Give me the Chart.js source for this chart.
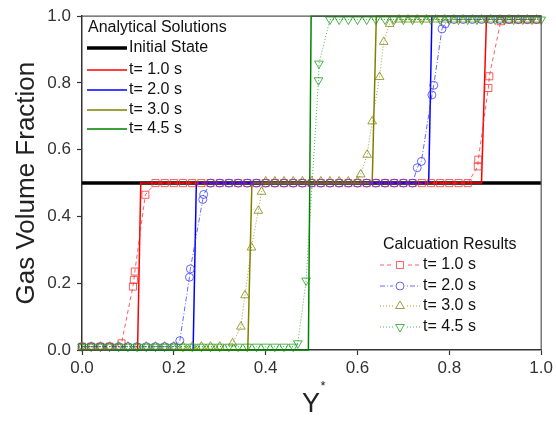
<!DOCTYPE html>
<html>
<head>
<meta charset="utf-8">
<script src="https://cdn.jsdelivr.net/npm/chart.js@4/dist/chart.umd.min.js"></script>
<style>
  html, body { margin: 0; padding: 0; background: #fff; }
  #wrap { width: 556px; height: 425px; }
</style>
</head>
<body>
<div id="wrap"><canvas id="gvf"></canvas></div>
<script>
// axis ticks
const xTicks = [0.0, 0.2, 0.4, 0.6, 0.8, 1.0];
const yTicks = [0.0, 0.2, 0.4, 0.6, 0.8, 1.0];

// analytical solutions (step fronts)
const initX = [0.0, 1.0];
const initY = [0.5, 0.5];
const anaX10 = [0.0, 0.121, 0.128, 0.870, 0.881, 1.0];
const anaY10 = [0.0, 0.0, 0.5, 0.5, 1.0, 1.0];
const anaX20 = [0.0, 0.242, 0.249, 0.755, 0.762, 1.0];
const anaY20 = [0.0, 0.0, 0.5, 0.5, 1.0, 1.0];
const anaX30 = [0.0, 0.361, 0.370, 0.632, 0.641, 1.0];
const anaY30 = [0.0, 0.0, 0.5, 0.5, 1.0, 1.0];
const anaX45 = [0.0, 0.493, 0.499, 1.0];
const anaY45 = [0.0, 0.0, 1.0, 1.0];

// calculation results
const calX10 = [0.00, 0.02, 0.04, 0.06, 0.086, 0.111, 0.113, 0.115, 0.138,
  0.16, 0.18, 0.20, 0.22, 0.24, 0.26, 0.28, 0.30, 0.32, 0.34, 0.36, 0.38, 0.40,
  0.42, 0.44, 0.46, 0.48, 0.50, 0.52, 0.54, 0.56, 0.58, 0.60, 0.62, 0.64, 0.66,
  0.68, 0.70, 0.72, 0.74, 0.76, 0.78, 0.80, 0.82, 0.84,
  0.862, 0.863, 0.885, 0.887, 0.912, 0.93, 0.95, 0.97, 0.99];
const calY10 = [0.01, 0.01, 0.01, 0.01, 0.02, 0.19, 0.21, 0.235, 0.465,
  0.5, 0.5, 0.5, 0.5, 0.5, 0.5, 0.5, 0.5, 0.5, 0.5, 0.5, 0.5, 0.5,
  0.5, 0.5, 0.5, 0.5, 0.5, 0.5, 0.5, 0.5, 0.5, 0.5, 0.5, 0.5, 0.5,
  0.5, 0.5, 0.5, 0.5, 0.5, 0.5, 0.5, 0.5, 0.5,
  0.55, 0.57, 0.785, 0.82, 0.985, 0.99, 0.99, 0.99, 0.99];

const calX20 = [0.00, 0.02, 0.04, 0.06, 0.08, 0.10, 0.12, 0.14, 0.16, 0.18, 0.20,
  0.213, 0.234, 0.236, 0.263, 0.265,
  0.28, 0.30, 0.32, 0.34, 0.36, 0.38, 0.40, 0.42, 0.44, 0.46, 0.48, 0.50,
  0.52, 0.54, 0.56, 0.58, 0.60, 0.62, 0.64, 0.66, 0.68, 0.70, 0.72,
  0.730, 0.739, 0.762, 0.766, 0.784, 0.791,
  0.81, 0.83, 0.85, 0.87, 0.89, 0.91, 0.93, 0.95, 0.97, 0.99];
const calY20 = [0.01, 0.01, 0.01, 0.01, 0.01, 0.01, 0.01, 0.01, 0.01, 0.01, 0.01,
  0.028, 0.218, 0.243, 0.451, 0.466,
  0.5, 0.5, 0.5, 0.5, 0.5, 0.5, 0.5, 0.5, 0.5, 0.5, 0.5, 0.5,
  0.5, 0.5, 0.5, 0.5, 0.5, 0.5, 0.5, 0.5, 0.5, 0.5, 0.5,
  0.546, 0.565, 0.764, 0.793, 0.962, 0.977,
  0.99, 0.99, 0.99, 0.99, 0.99, 0.99, 0.99, 0.99, 0.99, 0.99];

const calX30 = [0.00, 0.02, 0.04, 0.06, 0.08, 0.10, 0.12, 0.14, 0.16, 0.18, 0.20,
  0.22, 0.24, 0.26, 0.28, 0.30,
  0.328, 0.346, 0.355, 0.369, 0.384, 0.391,
  0.40, 0.42, 0.44, 0.46, 0.48, 0.50, 0.52, 0.54, 0.56, 0.58, 0.60,
  0.607, 0.621, 0.632, 0.648, 0.657, 0.670,
  0.69, 0.71, 0.73, 0.75, 0.77, 0.79, 0.81, 0.83, 0.85, 0.87, 0.89, 0.91,
  0.93, 0.95, 0.97, 0.99];
const calY30 = [0.01, 0.01, 0.01, 0.01, 0.01, 0.01, 0.01, 0.01, 0.01, 0.01, 0.01,
  0.01, 0.01, 0.01, 0.01, 0.01,
  0.02, 0.07, 0.164, 0.307, 0.417, 0.474,
  0.505, 0.505, 0.505, 0.505, 0.505, 0.505, 0.505, 0.505, 0.505, 0.505, 0.505,
  0.526, 0.585, 0.685, 0.818, 0.923, 0.977,
  0.99, 0.99, 0.99, 0.99, 0.99, 0.99, 0.99, 0.99, 0.99, 0.99, 0.99, 0.99,
  0.99, 0.99, 0.99, 0.99];

const calX45 = [0.00, 0.02, 0.04, 0.06, 0.08, 0.10, 0.12, 0.14, 0.16, 0.18, 0.20,
  0.22, 0.24, 0.26, 0.28, 0.30, 0.32, 0.34, 0.36, 0.38, 0.40, 0.42, 0.44, 0.46,
  0.47, 0.488, 0.515, 0.516,
  0.54, 0.56, 0.58, 0.60, 0.62, 0.64, 0.66, 0.68, 0.70, 0.72, 0.74, 0.76,
  0.78, 0.80, 0.82, 0.84, 0.86, 0.88, 0.90, 0.92, 0.94, 0.96, 0.98, 1.00];
const calY45 = [0.01, 0.01, 0.01, 0.01, 0.01, 0.01, 0.01, 0.01, 0.01, 0.01, 0.01,
  0.01, 0.01, 0.01, 0.01, 0.01, 0.01, 0.01, 0.01, 0.01, 0.01, 0.01, 0.01, 0.01,
  0.02, 0.208, 0.808, 0.858,
  0.99, 0.99, 0.99, 0.99, 0.99, 0.99, 0.99, 0.99, 0.99, 0.99, 0.99, 0.99,
  0.99, 0.99, 0.99, 0.99, 0.99, 0.99, 0.99, 0.99, 0.99, 0.99, 0.99, 0.99];

const timeLabels = ["t= 1.0 s", "t= 2.0 s", "t= 3.0 s", "t= 4.5 s"];

const FONT = "'Liberation Sans', Arial, sans-serif";
Chart.defaults.font.family = FONT;

const pts = (xs, ys) => xs.map((x, i) => ({ x: x, y: ys[i] }));

// solid analytical lines (higher order = drawn earlier)
function anaSet(label, xs, ys, color, width, order) {
  return {
    label: label, data: pts(xs, ys), showLine: true,
    borderColor: color, borderWidth: width, pointRadius: 0,
    tension: 0, clip: 4, order: order
  };
}
// dashed lines with hollow markers
function calSet(label, xs, ys, color, dash, style, radius, rot, order) {
  return {
    label: label, data: pts(xs, ys), showLine: true,
    borderColor: color, borderWidth: 1, borderDash: dash,
    pointStyle: style, pointRadius: radius, pointRotation: rot,
    pointBorderColor: color, pointBackgroundColor: "rgba(0,0,0,0)",
    pointBorderWidth: 1, pointHoverRadius: radius,
    tension: 0, clip: 8, order: order
  };
}

const datasets = [
  anaSet("Initial State", initX, initY, "#000000", 3.5, 20),
  anaSet(timeLabels[0], anaX10, anaY10, "#ff0000", 1.5, 19),
  anaSet(timeLabels[1], anaX20, anaY20, "#0000ff", 1.5, 18),
  anaSet(timeLabels[2], anaX30, anaY30, "#808000", 1.5, 17),
  anaSet(timeLabels[3], anaX45, anaY45, "#008000", 1.5, 16),
  calSet(timeLabels[0], calX10, calY10, "rgba(255,40,40,0.75)", [4, 3], "rect", 5, 0, 9),
  calSet(timeLabels[1], calX20, calY20, "rgba(40,40,255,0.7)", [5, 2, 1, 2], "circle", 4, 0, 8),
  calSet(timeLabels[2], calX30, calY30, "rgba(128,128,0,0.75)", [1, 2], "triangle", 5, 0, 7),
  calSet(timeLabels[3], calX45, calY45, "rgba(0,150,0,0.7)", [1, 2], "triangle", 5, 180, 6)
];

// titles, frame and the two legend boxes
const decor = {
  id: "decor",
  afterDraw(chart) {
    const ctx = chart.ctx;
    const a = chart.chartArea;
    ctx.save();
    ctx.strokeStyle = "#555";
    ctx.lineWidth = 1.2;
    ctx.beginPath();
    ctx.moveTo(a.left, a.top);
    ctx.lineTo(a.right, a.top);
    ctx.lineTo(a.right, a.bottom);
    ctx.stroke();

    ctx.fillStyle = "#222";
    ctx.textAlign = "center";
    ctx.textBaseline = "middle";
    ctx.font = "26px " + FONT;
    ctx.save();
    ctx.translate(27, (a.top + a.bottom) / 2);
    ctx.rotate(-Math.PI / 2);
    ctx.fillText("Gas Volume Fraction", 0, 0);
    ctx.restore();
    ctx.font = "27px " + FONT;
    ctx.fillText("Y", 311, 405);
    ctx.font = "13px " + FONT;
    ctx.fillText("*", 323, 386);

    // analytical legend
    ctx.textAlign = "left";
    ctx.font = "16px " + FONT;
    ctx.fillStyle = "#111";
    ctx.fillText("Analytical Solutions", 88, 28);
    const anaRows = [48, 70, 90, 110, 129];
    for (let i = 0; i < 5; i++) {
      const ds = chart.data.datasets[i];
      ctx.strokeStyle = ds.borderColor;
      ctx.lineWidth = ds.borderWidth;
      ctx.setLineDash([]);
      ctx.beginPath();
      ctx.moveTo(87, anaRows[i]);
      ctx.lineTo(127, anaRows[i]);
      ctx.stroke();
      ctx.fillText(ds.label, 129, anaRows[i]);
    }

    // calculation legend
    ctx.fillText("Calcuation Results", 383, 245);
    const calRows = [265, 286, 306, 327];
    for (let i = 0; i < 4; i++) {
      const ds = chart.data.datasets[5 + i];
      ctx.strokeStyle = ds.borderColor;
      ctx.lineWidth = 1;
      ctx.setLineDash(ds.borderDash);
      ctx.beginPath();
      ctx.moveTo(380, calRows[i]);
      ctx.lineTo(420, calRows[i]);
      ctx.stroke();
      ctx.setLineDash([]);
      ctx.fillStyle = "#fff";
      ctx.fillRect(393, calRows[i] - 6, 14, 12);
      ctx.fillStyle = "rgba(0,0,0,0)";
      Chart.helpers.drawPoint(ctx, {
        pointStyle: ds.pointStyle, radius: ds.pointRadius,
        rotation: ds.pointRotation, borderWidth: 1.2
      }, 400, calRows[i]);
      ctx.fillStyle = "#111";
      ctx.fillText(ds.label, 423, calRows[i]);
    }
    ctx.restore();
  }
};

const axisStyle = {
  type: "linear", min: 0, max: 1,
  grid: { drawOnChartArea: false, drawTicks: true, tickLength: 5, color: "#333", tickWidth: 1.2 },
  border: { display: true, color: "#333", width: 1.5 },
  ticks: {
    stepSize: 0.2, color: "#333", font: { size: 17 },
    callback: (v) => Number(v).toFixed(1)
  }
};

new Chart(document.getElementById("gvf"), {
  type: "scatter",
  data: { datasets: datasets },
  options: {
    responsive: true,
    maintainAspectRatio: false,
    animation: false,
    events: [],
    layout: { padding: { top: 14, right: 13, left: 0, bottom: 0 } },
    plugins: { legend: { display: false }, tooltip: { enabled: false } },
    scales: {
      x: Object.assign({}, axisStyle, {
        position: "bottom",
        afterBuildTicks: (s) => { s.ticks = xTicks.map((v) => ({ value: v })); },
        afterFit: (s) => { s.height = 75; },
        ticks: Object.assign({}, axisStyle.ticks, { padding: 3, maxRotation: 0 })
      }),
      y: Object.assign({}, axisStyle, {
        position: "left",
        afterBuildTicks: (s) => { s.ticks = yTicks.map((v) => ({ value: v })); },
        afterFit: (s) => { s.width = 82; },
        ticks: Object.assign({}, axisStyle.ticks, { padding: 6 })
      })
    }
  },
  plugins: [decor]
});
</script>
</body>
</html>
